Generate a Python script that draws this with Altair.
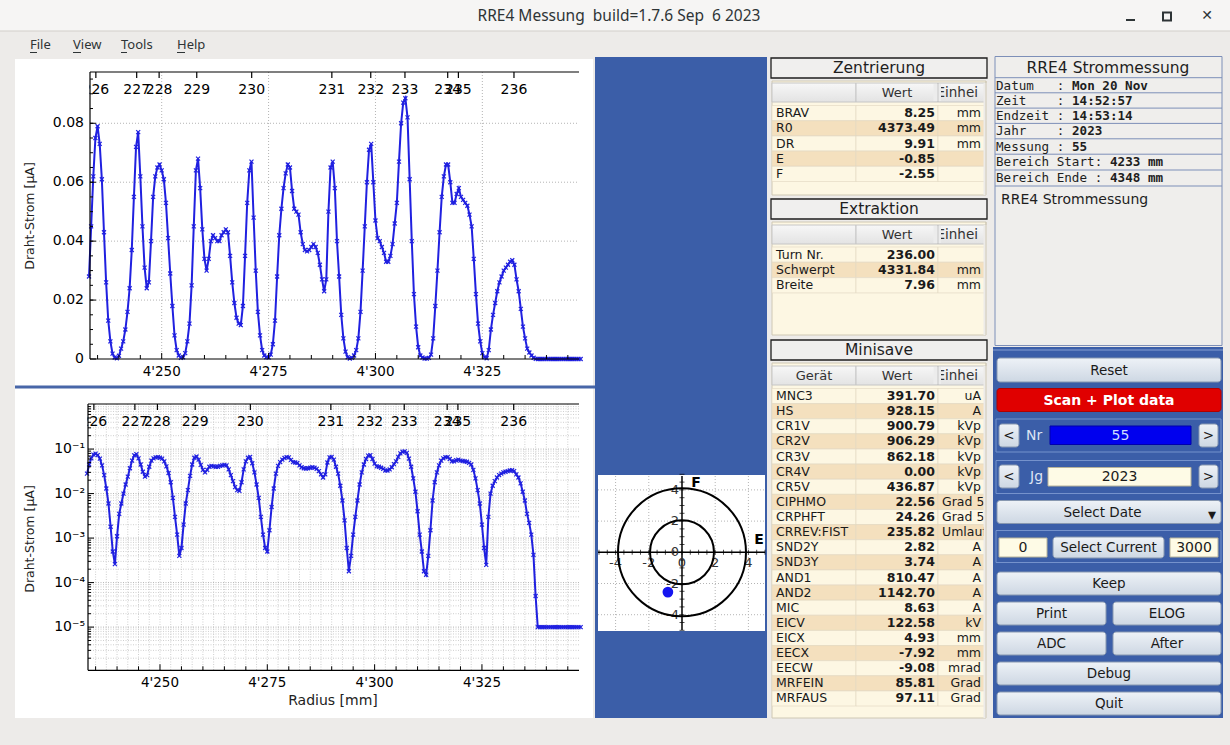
import altair as alt
import pandas as pd

W, H = 1230, 745
SANS = "DejaVu Sans"
MONO = "DejaVu Sans Mono"
UI = "Noto Sans"

# ------------------------------------------------------------------
# RRE4 wire current scan, sampled every 0.5 mm starting at 4233.0 mm
# ------------------------------------------------------------------
R_START, R_STEP = 4233.0, 0.5
current_uA = [
    0.028, 0.045, 0.062, 0.075, 0.079, 0.073, 0.061, 0.043, 0.026, 0.013,
    0.006, 0.0018, 0.0005, 0.00026, 0.0011, 0.0035, 0.006, 0.010, 0.016, 0.024,
    0.037, 0.055, 0.072, 0.077, 0.062, 0.045, 0.031, 0.024, 0.026, 0.040,
    0.055, 0.062, 0.065, 0.066, 0.064, 0.061, 0.053, 0.041, 0.029, 0.018,
    0.008, 0.003, 0.0012, 0.0004, 0.0006, 0.002, 0.006, 0.012, 0.025, 0.045,
    0.064, 0.068, 0.058, 0.044, 0.034, 0.030, 0.034, 0.040, 0.042, 0.041,
    0.040, 0.040, 0.042, 0.043, 0.044, 0.043, 0.035, 0.026, 0.019, 0.014,
    0.012, 0.0115, 0.018, 0.035, 0.053, 0.064, 0.067, 0.048, 0.030, 0.016,
    0.008, 0.003, 0.0012, 0.0006, 0.0005, 0.0015, 0.005, 0.013, 0.028, 0.042,
    0.051, 0.058, 0.063, 0.066, 0.065, 0.057, 0.051, 0.050, 0.049, 0.043,
    0.039, 0.037, 0.0365, 0.037, 0.038, 0.039, 0.038, 0.036, 0.032, 0.027,
    0.023, 0.027, 0.050, 0.065, 0.067, 0.058, 0.040, 0.028, 0.015, 0.007,
    0.0025, 0.0006, 0.00018, 0.0004, 0.0012, 0.003, 0.007, 0.016, 0.030, 0.045,
    0.060, 0.071, 0.073, 0.060, 0.047, 0.041, 0.040, 0.038, 0.036, 0.033,
    0.033, 0.035, 0.039, 0.046, 0.053, 0.067, 0.080, 0.087, 0.0885, 0.082,
    0.061, 0.040, 0.022, 0.011, 0.004, 0.0012, 0.0005, 0.00018, 0.00015, 0.0004,
    0.0015, 0.007, 0.018, 0.030, 0.043, 0.055, 0.062, 0.066, 0.066, 0.060,
    0.053, 0.053, 0.056, 0.058, 0.055, 0.054, 0.053, 0.052, 0.049, 0.045,
    0.034, 0.022, 0.012, 0.006, 0.002, 0.0006, 0.00025, 0.003, 0.010, 0.015,
    0.019, 0.023, 0.026, 0.028, 0.030, 0.031, 0.032, 0.033, 0.0335, 0.032,
    0.027, 0.023, 0.017, 0.011, 0.007, 0.0035, 0.0022, 0.0012, 0.00042, 0.00005,
    1e-5, 1e-5, 1e-5, 1e-5, 1e-5, 1e-5, 1e-5, 1e-5, 1e-5, 1e-5,
    1e-5, 1e-5, 1e-5, 1e-5, 1e-5, 1e-5, 1e-5, 1e-5, 1e-5, 1e-5,
    1e-5,
]
radius_mm = [R_START + R_STEP * k for k in range(len(current_uA))]

# turn numbers marked along the top edge of both plots
turn_labels = ["226", "227", "228", "229", "230", "231", "232", "233", "234", "235", "236"]
turn_radius_mm = [4234.6, 4244.15, 4249.4, 4258.2, 4271.05, 4289.8,
                  4298.9, 4306.9, 4316.9, 4319.4, 4332.4]

# axis ticks
radius_major = [4250, 4275, 4300, 4325]
radius_minor = [4235, 4240, 4245, 4255, 4260, 4265, 4270, 4280, 4285, 4290,
                4295, 4305, 4310, 4315, 4320, 4330, 4335, 4340, 4345]
radius_fine = [4235 + 2.5 * k for k in range(45)]
lin_major = [0.0, 0.02, 0.04, 0.06, 0.08]
lin_labels = ["0", "0.02", "0.04", "0.06", "0.08"]
lin_minor = [0.005 * k for k in range(1, 20)]
log_major = [1e-5, 1e-4, 1e-3, 1e-2, 1e-1]
log_labels = ["10⁻⁵", "10⁻⁴", "10⁻³", "10⁻²", "10⁻¹"]
log_minor = [m * 10.0 ** e for e in range(-6, 0) for m in range(2, 10)
             if 1.1e-6 < m * 10.0 ** e < 1.0]


def radius_text(v):
    return f"{v // 1000}'{v % 1000:03d}"


# centering results (E, F are also drawn in the target plot)
zentr_names = ["BRAV", "R0", "DR", "E", "F"]
zentr_values = ["8.25", "4373.49", "9.91", "-0.85", "-2.55"]
zentr_units = ["mm", "mm", "mm", "", ""]
centre_E, centre_F = -0.85, -2.55

extr_names = ["Turn Nr.", "Schwerpt", "Breite"]
extr_values = ["236.00", "4331.84", "7.96"]
extr_units = ["", "mm", "mm"]

mini_names = ["MNC3", "HS", "CR1V", "CR2V", "CR3V", "CR4V", "CR5V", "CIPHMO",
              "CRPHFT", "CRREV:FIST", "SND2Y", "SND3Y", "AND1", "AND2", "MIC",
              "EICV", "EICX", "EECX", "EECW", "MRFEIN", "MRFAUS"]
mini_values = ["391.70", "928.15", "900.79", "906.29", "862.18", "0.00", "436.87",
               "22.56", "24.26", "235.82", "2.82", "3.74", "810.47", "1142.70",
               "8.63", "122.58", "4.93", "-7.92", "-9.08", "85.81", "97.11"]
mini_units = ["uA", "A", "kVp", "kVp", "kVp", "kVp", "kVp", "Grad 5", "Grad 5",
              "Umlauf", "A", "A", "A", "A", "A", "kV", "mm", "mm", "mrad",
              "Grad", "Grad"]

info_keys = ["Datum", "Zeit", "Endzeit", "Jahr", "Messung", "Bereich Start", "Bereich Ende"]
info_vals = ["Mon 20 Nov", "14:52:57", "14:53:14", "2023", "55", "4233 mm", "4348 mm"]

# ------------------------------------------------------------------
# colours
# ------------------------------------------------------------------
BG = "#edebe9"
TITLE_BG = "#f6f5f4"
PANEL_BLUE = "#3b5ea8"
CURVE = "#2020e0"
GRID = "#b4b4b4"
CREAM = "#fdf7e3"
TAN = "#f4e0be"
FIELD = "#fefbe6"
BTN_GRAD = alt.Gradient(gradient="linear", x1=0, x2=0, y1=0, y2=1,
                        stops=[alt.GradientStop(color="#eef2f7", offset=0),
                               alt.GradientStop(color="#cdd7e3", offset=1)])
HEAD_GRAD = alt.Gradient(gradient="linear", x1=0, x2=0, y1=0, y2=1,
                         stops=[alt.GradientStop(color="#f7f7f7", offset=0),
                                alt.GradientStop(color="#e3e3e3", offset=1)])

# pixel-space scales for the window layout
PX = alt.Scale(domain=[0, W], range=[0, W], nice=False, zero=False)
PY = alt.Scale(domain=[0, H], range=[0, H], nice=False, zero=False)


def rect_layer(rows, **mark):
    df = pd.DataFrame(rows, columns=["x", "x2", "y", "y2", "fill", "stroke"])
    return alt.Chart(df).mark_rect(**mark).encode(
        x=alt.X("x:Q", scale=PX, axis=None), x2="x2:Q",
        y=alt.Y("y:Q", scale=PY, axis=None), y2="y2:Q",
        fill=alt.Fill("fill:N", scale=None),
        stroke=alt.Stroke("stroke:N", scale=None))


def box_layer(rows, fill, stroke, width=1.0, radius=0):
    df = pd.DataFrame(rows, columns=["x", "x2", "y", "y2"])
    kw = dict(fill=fill, stroke=stroke, strokeWidth=width)
    if radius:
        kw["cornerRadius"] = radius
    return alt.Chart(df).mark_rect(**kw).encode(
        x=alt.X("x:Q", scale=PX, axis=None), x2="x2:Q",
        y=alt.Y("y:Q", scale=PY, axis=None), y2="y2:Q")


def line_layer(rows, color, width=1.0, dash=None):
    df = pd.DataFrame(rows, columns=["x", "x2", "y", "y2"])
    kw = dict(color=color, strokeWidth=width)
    if dash:
        kw["strokeDash"] = dash
    return alt.Chart(df).mark_rule(**kw).encode(
        x=alt.X("x:Q", scale=PX, axis=None), x2="x2:Q",
        y=alt.Y("y:Q", scale=PY, axis=None), y2="y2:Q")


def text_layer(rows, size, align="left", font=SANS, weight="normal",
               color="#000000", angle=0):
    df = pd.DataFrame(rows, columns=["x", "y", "t"])
    return alt.Chart(df).mark_text(
        align=align, baseline="middle", font=font, fontWeight=weight,
        fontSize=size, color=color, angle=angle).encode(
        x=alt.X("x:Q", scale=PX, axis=None),
        y=alt.Y("y:Q", scale=PY, axis=None),
        text="t:N")


# scale-driven helpers for the plots
def vrules(values, xscale, y0, y1, color, width=1.0, dash=None):
    kw = dict(color=color, strokeWidth=width)
    if dash:
        kw["strokeDash"] = dash
    return alt.Chart(pd.DataFrame({"v": values})).mark_rule(**kw).encode(
        x=alt.X("v:Q", scale=xscale, axis=None), y=alt.value(y0), y2=alt.value(y1))


def hrules(values, yscale, x0, x1, color, width=1.0, dash=None):
    kw = dict(color=color, strokeWidth=width)
    if dash:
        kw["strokeDash"] = dash
    return alt.Chart(pd.DataFrame({"v": values})).mark_rule(**kw).encode(
        y=alt.Y("v:Q", scale=yscale, axis=None), x=alt.value(x0), x2=alt.value(x1))


def xtext(values, labels, xscale, y, size=13.5, color="#000000"):
    df = pd.DataFrame({"v": values, "t": labels})
    return alt.Chart(df).mark_text(font=SANS, fontSize=size, color=color,
                                   align="center", baseline="middle").encode(
        x=alt.X("v:Q", scale=xscale, axis=None), y=alt.value(y), text="t:N")


def ytext(values, labels, yscale, x, size=13.5, color="#000000"):
    df = pd.DataFrame({"v": values, "t": labels})
    return alt.Chart(df).mark_text(font=SANS, fontSize=size, color=color,
                                   align="right", baseline="middle").encode(
        y=alt.Y("v:Q", scale=yscale, axis=None), x=alt.value(x), text="t:N")


curve = pd.DataFrame({"r": radius_mm, "i": current_uA})
CROSS = "M-1,-1L1,1M-1,1L1,-1"


def curve_layers(xscale, yscale):
    enc = dict(x=alt.X("r:Q", scale=xscale, axis=None),
               y=alt.Y("i:Q", scale=yscale, axis=None))
    return [
        alt.Chart(curve).mark_line(color=CURVE, strokeWidth=2).encode(**enc),
        alt.Chart(curve).mark_point(shape=CROSS, size=16, filled=False,
                                    color=CURVE, strokeWidth=1.2, opacity=1).encode(**enc),
    ]


layers = []

# ------------------------------------------------------------------
# window frame
# ------------------------------------------------------------------
layers.append(rect_layer([
    (0, W, 0, H, BG, "transparent"),
    (0, W, 0, 31, TITLE_BG, "transparent"),
    (15, 593, 59, 718, "#ffffff", "transparent"),
    (595, 767, 57, 718, PANEL_BLUE, "transparent"),
    (15, 595, 385.5, 388.5, "#4866a8", "transparent"),
    (598, 765, 475, 631, "#ffffff", "transparent"),
    (993, 1223, 347, 718, PANEL_BLUE, "transparent"),
]))
layers.append(line_layer([(0, W, 31, 31)], "#d3cfcb"))
layers.append(text_layer([(619, 16, "RRE4 Messung\u00a0 build=1.7.6 Sep\u00a0 6 2023")],
                         15.5, align="center", font=UI, color="#2e3436"))
layers.append(text_layer([(30, 45, "File"), (73, 45, "View"), (121, 45, "Tools"),
                          (177, 45, "Help")], 13, font=UI, color="#2e3436"))
layers.append(line_layer([(30, 37, 52.5, 52.5), (73, 81, 52.5, 52.5), (121, 127, 52.5, 52.5),
                          (177, 185, 52.5, 52.5)], "#2e3436", 1))
# window buttons
layers.append(line_layer([(1126, 1135, 20, 20)], "#2e3436", 2))
layers.append(box_layer([(1163, 1171, 12.5, 20.5)], "transparent", "#2e3436", 2))
layers.append(text_layer([(1207, 16, "✕")], 14, align="center", weight="bold", color="#2e3436"))

# ------------------------------------------------------------------
# upper plot: linear current
# ------------------------------------------------------------------
TX = alt.Scale(domain=[4233.23, 4347.61], range=[90, 579], nice=False, zero=False)
TY = alt.Scale(domain=[0, 0.0974], range=[359, 72], nice=False, zero=False)
layers.append(vrules(radius_major, TX, 72, 359, GRID, 1, [1, 2]))
layers.append(hrules(lin_major[1:], TY, 90, 579, GRID, 1, [1, 2]))
layers += curve_layers(TX, TY)
layers.append(vrules(radius_minor, TX, 359, 355, "#000000"))
layers.append(vrules(radius_major, TX, 359, 353, "#000000"))
layers.append(hrules(lin_minor, TY, 90, 93, "#000000"))
layers.append(hrules(lin_major, TY, 90, 96, "#000000"))
layers.append(vrules(turn_radius_mm, TX, 72, 78, "#000000", 1.2))
layers.append(xtext(turn_radius_mm, turn_labels, TX, 90, 14))
layers.append(box_layer([(40, 89.5, 80, 100)], "#ffffff", "transparent", 0))
layers.append(line_layer([(90, 579, 72, 72), (90, 579, 359, 359), (90, 90, 72, 359)],
                         "#000000", 1.2))
layers.append(xtext(radius_major, [radius_text(v) for v in radius_major], TX, 372))
layers.append(ytext(lin_major, lin_labels, TY, 84, 14))
layers.append(text_layer([(30, 216, "Draht-Strom [µA]")], 12.5, align="center",
                         color="#222222", angle=270))

# ------------------------------------------------------------------
# lower plot: logarithmic current
# ------------------------------------------------------------------
BX = alt.Scale(domain=[4233.23, 4347.61], range=[88, 579], nice=False, zero=False)
BY = alt.Scale(type="log", domain=[1.07e-6, 1.03], range=[670.3, 404], nice=False)
layers.append(vrules(radius_fine, BX, 404, 670.3, "#cfcfcf", 1, [1, 1.5]))
layers.append(hrules(log_minor, BY, 88, 579, "#cfcfcf", 1, [1, 1.5]))
layers.append(hrules(log_major, BY, 88, 579, GRID, 1, [1, 1.5]))
layers += curve_layers(BX, BY)
layers.append(vrules(radius_minor, BX, 670.3, 666.3, "#000000"))
layers.append(vrules(radius_major, BX, 670.3, 664.3, "#000000"))
layers.append(hrules(log_minor, BY, 88, 91, "#000000"))
layers.append(hrules(log_major, BY, 88, 94, "#000000"))
layers.append(vrules(turn_radius_mm, BX, 404, 410, "#000000", 1.2))
layers.append(xtext(turn_radius_mm, turn_labels, BX, 422, 14))
layers.append(box_layer([(40, 87.5, 412, 432)], "#ffffff", "transparent", 0))
layers.append(line_layer([(88, 579, 404, 404), (88, 579, 670.3, 670.3), (88, 88, 404, 670.3)],
                         "#000000", 1.2))
layers.append(xtext(radius_major, [radius_text(v) for v in radius_major], BX, 683))
layers.append(ytext(log_major, log_labels, BY, 85, 14))
layers.append(text_layer([(30, 539, "Draht-Strom [µA]")], 12.5, align="center",
                         color="#222222", angle=270))
layers.append(text_layer([(333, 701, "Radius [mm]")], 14, align="center", color="#222222"))

# ------------------------------------------------------------------
# centering target (E/F plane)
# ------------------------------------------------------------------
CX = alt.Scale(domain=[-5.12, 5.0], range=[597, 765], nice=False, zero=False)
CY = alt.Scale(domain=[-4.98, 4.955], range=[630, 475], nice=False, zero=False)
even = [-4, -2, 2, 4]
layers.append(vrules(even, CX, 476, 630, GRID, 1, [1, 2]))
layers.append(hrules(even, CY, 598, 765, GRID, 1, [1, 2]))
layers.append(hrules([0], CY, 598, 765, "#000000", 1.5))
layers.append(vrules([0], CX, 476, 630, "#000000", 1.5))
half_steps = [-5 + 0.5 * k for k in range(21)]
zero_line = pd.DataFrame({"v": half_steps, "z": [0.0] * len(half_steps)})
layers.append(alt.Chart(zero_line).mark_tick(orient="vertical", size=5, thickness=1,
                                             color="#000000").encode(
    x=alt.X("v:Q", scale=CX, axis=None), y=alt.Y("z:Q", scale=CY, axis=None)))
layers.append(alt.Chart(zero_line).mark_tick(orient="horizontal", size=5, thickness=1,
                                             color="#000000").encode(
    y=alt.Y("v:Q", scale=CY, axis=None), x=alt.X("z:Q", scale=CX, axis=None)))
tick_vals = [-4, -2, 0, 2, 4]
tick_txt = ["-4", "-2", "0", "2", "4"]
lab = pd.DataFrame({"v": tick_vals, "t": tick_txt, "z": [0.0] * 5})
layers.append(alt.Chart(lab).mark_text(font=SANS, fontSize=13, color="#333333",
                                       align="center", baseline="middle", dy=11).encode(
    x=alt.X("v:Q", scale=CX, axis=None), y=alt.Y("z:Q", scale=CY, axis=None), text="t:N"))
layers.append(alt.Chart(lab).mark_text(font=SANS, fontSize=13, color="#333333",
                                       align="right", baseline="middle", dx=-3).encode(
    y=alt.Y("v:Q", scale=CY, axis=None), x=alt.X("z:Q", scale=CX, axis=None), text="t:N"))
rings = pd.DataFrame({"r": [2.0, 4.0], "cx": [0.0, 0.0], "cy": [0.0, 0.0]})
layers.append(alt.Chart(rings).mark_arc(theta=0, theta2=6.2832, fill="transparent",
                                        stroke="#000000", strokeWidth=2).encode(
    x=alt.X("cx:Q", scale=CX, axis=None), y=alt.Y("cy:Q", scale=CY, axis=None),
    radius=alt.Radius("r:Q", stack=None,
                      scale=alt.Scale(type="linear", domain=[0, 4],
                                      range=[0, 64], zero=True, nice=False))))
beam = pd.DataFrame({"E": [centre_E], "F": [centre_F]})
layers.append(alt.Chart(beam).mark_circle(size=115, color="#1515f0", opacity=1).encode(
    x=alt.X("E:Q", scale=CX, axis=None), y=alt.Y("F:Q", scale=CY, axis=None)))
layers.append(text_layer([(696, 483, "F"), (759, 540, "E")], 14, align="center",
                         weight="bold"))


# ------------------------------------------------------------------
# value tables
# ------------------------------------------------------------------
def table(title, y_head, y_tab0, y_tab1, y_cols, y_row0, row_h, names, values, units,
          first_col=""):
    out = []
    out.append(box_layer([(771, 987, y_head, y_head + 20)], "#f0efee", "#1e1e1e", 1.3))
    out.append(text_layer([(879, y_head + 10, title)], 15.5, align="center", color="#1e1e1e"))
    out.append(box_layer([(772, 986, y_tab0, y_tab1)], CREAM, "#cfc8b4", 1))
    out.append(box_layer([(772, 856, y_cols, y_cols + 19), (856, 938, y_cols, y_cols + 19),
                          (938, 986, y_cols, y_cols + 19)], HEAD_GRAD, "#c6c6c6", 1))
    rows = []
    for k in range(len(names)):
        fill = CREAM if k % 2 == 0 else TAN
        y0 = y_row0 + k * row_h
        for (a, b) in ((772, 856), (856, 938), (938, 986)):
            rows.append((a, b, y0, y0 + row_h, fill, "#e4dac4"))
    out.append(rect_layer(rows, strokeWidth=0.7))
    mids = [y_row0 + (k + 0.5) * row_h for k in range(len(names))]
    out.append(text_layer([(776, m, n) for m, n in zip(mids, names)], 12.5, color="#1a1a1a"))
    out.append(text_layer([(935, m, v) for m, v in zip(mids, values)], 12.5, align="right",
                          weight="bold", color="#1a1a1a"))
    right_units = [(981, m, u) for m, u in zip(mids, units) if u and len(u) <= 4]
    left_units = [(942, m, u) for m, u in zip(mids, units) if len(u) > 4]
    if right_units:
        out.append(text_layer(right_units, 12.5, align="right", color="#1a1a1a"))
    if left_units:
        out.append(text_layer(left_units, 12.5, color="#1a1a1a"))
    yc = y_cols + 9.5
    out.append(text_layer([(897, yc, "Wert")], 13, align="center", color="#333333"))
    if first_col:
        out.append(text_layer([(814, yc, first_col)], 13, align="center", color="#333333"))
    out.append(text_layer([(936.5, yc, "Einhei")], 13.5, color="#333333"))
    out.append(box_layer([(933.5, 941, y_cols + 1, y_cols + 18)], "#ececec", "transparent", 0))
    out.append(box_layer([(983.5, 990, y_cols, y_tab1)], BG, "transparent", 0))
    out.append(line_layer([(938, 938, y_cols, y_cols + 19)], "#c6c6c6", 1))
    out.append(line_layer([(986, 986, y_tab0, y_tab1)], "#cfc8b4", 1))
    return out


layers += table("Zentrierung", 58, 81, 195, 83, 105.5, 15.2,
                zentr_names, zentr_values, zentr_units)
layers += table("Extraktion", 199, 222, 335, 225, 247, 15.3,
                extr_names, extr_values, extr_units)
layers += table("Minisave", 340, 363, 718, 366, 388.5, 15.12,
                mini_names, mini_values, mini_units, first_col="Gerät")

# ------------------------------------------------------------------
# measurement info panel
# ------------------------------------------------------------------
INFO_LINE = "#7d8fb8"
layers.append(box_layer([(995, 1222, 56.5, 345.5)], "#efeeec", INFO_LINE, 1))
sep_y = [77.7, 92.8, 108.1, 123.4, 138.8, 154.2, 170.0, 186.0]
layers.append(line_layer([(995, 1222, y, y) for y in sep_y], INFO_LINE, 1))
layers.append(text_layer([(1108, 67.5, "RRE4 Strommessung")], 15.5, align="center",
                         color="#1e1e1e"))
CH = 7.6
mids = [(sep_y[k] + sep_y[k + 1]) / 2 + 0.3 for k in range(7)]
colon_at = [8, 8, 8, 8, 8, 13, 13]
layers.append(text_layer([(996, m, k) for m, k in zip(mids, info_keys)], 12.6,
                         font=MONO, color="#1e1e1e"))
layers.append(text_layer([(996 + c * CH, m, ":") for m, c in zip(mids, colon_at)], 12.6,
                         font=MONO, color="#1e1e1e"))
layers.append(text_layer([(996 + (c + 2) * CH, m, v) for m, c, v in zip(mids, colon_at, info_vals)],
                         12.6, font=MONO, weight="bold", color="#1e1e1e"))
layers.append(text_layer([(1001, 200, "RRE4 Strommessung")], 14, color="#1e1e1e"))

# ------------------------------------------------------------------
# control buttons
# ------------------------------------------------------------------
layers.append(line_layer([(993, 1223, 350, 350)], "#6e8ac4", 1.5))
buttons = [
    (997, 1221, 358, 382, "Reset"),
    (1053, 1164, 537, 558, "Select Current"),
    (997, 1221, 572, 595, "Keep"),
    (997, 1106, 602, 625, "Print"), (1113, 1221, 602, 625, "ELOG"),
    (997, 1106, 632, 655, "ADC"), (1113, 1221, 632, 655, "After"),
    (997, 1221, 662, 685, "Debug"),
    (997, 1221, 692, 715, "Quit"),
    (997, 1221, 500.5, 523.5, "Select Date"),
]
small_buttons = [(999, 1019, 424, 447, "<"), (1199, 1218, 424, 447, ">"),
                 (999, 1019, 465, 488, "<"), (1199, 1218, 465, 488, ">")]
layers.append(box_layer([(996, 1221, 419, 452), (996, 1221, 460.5, 493.5),
                         (996, 1221, 530.5, 562.5)], "transparent", "#7592cc", 1))
layers.append(box_layer([b[:4] for b in buttons + small_buttons], BTN_GRAD, "#8797b0", 1, 3))
layers.append(box_layer([(997, 1221, 388.5, 411.5)], "#e00000", "#b00000", 1, 3))
layers.append(box_layer([(1050, 1191, 426, 444.5)], "#0000ee", "#0000aa", 1))
layers.append(box_layer([(1048, 1191, 467.5, 486), (999, 1047, 538, 557),
                         (1170, 1218, 538, 557)], FIELD, "#b8b39a", 1))
label_rows = [((b[0] + b[1]) / 2, (b[2] + b[3]) / 2 + 0.5, b[4]) for b in buttons[:-1]]
label_rows.append((1102.5, 512.5, "Select Date"))
layers.append(text_layer(label_rows, 13.5, align="center", color="#1a1a1a"))
layers.append(text_layer([((b[0] + b[1]) / 2, (b[2] + b[3]) / 2, b[4]) for b in small_buttons],
                         13.5, align="center", color="#1a1a1a"))
layers.append(text_layer([(1212, 515, "▾")], 16, align="center", color="#1a1a1a"))
layers.append(text_layer([(1109, 400.5, "Scan + Plot data")], 14, align="center",
                         weight="bold", color="#ffffff"))
layers.append(text_layer([(1026, 435.5, "Nr"), (1030, 477, "Jg")], 14, color="#dde4f4"))
layers.append(text_layer([(1120.5, 435.5, "55")], 14, align="center", color="#cfdcff"))
layers.append(text_layer([(1119.5, 477, "2023"), (1023, 548, "0"), (1194, 548, "3000")],
                         14, align="center", color="#1a1a1a"))

chart = alt.layer(*layers).resolve_scale(
    x="independent", y="independent"
).properties(
    width=W, height=H, autosize=alt.AutoSizeParams(type="none"), padding=0
).configure_view(strokeWidth=0).configure(background=BG)

chart.save("out.html", embed_options={"renderer": "svg", "actions": False})
